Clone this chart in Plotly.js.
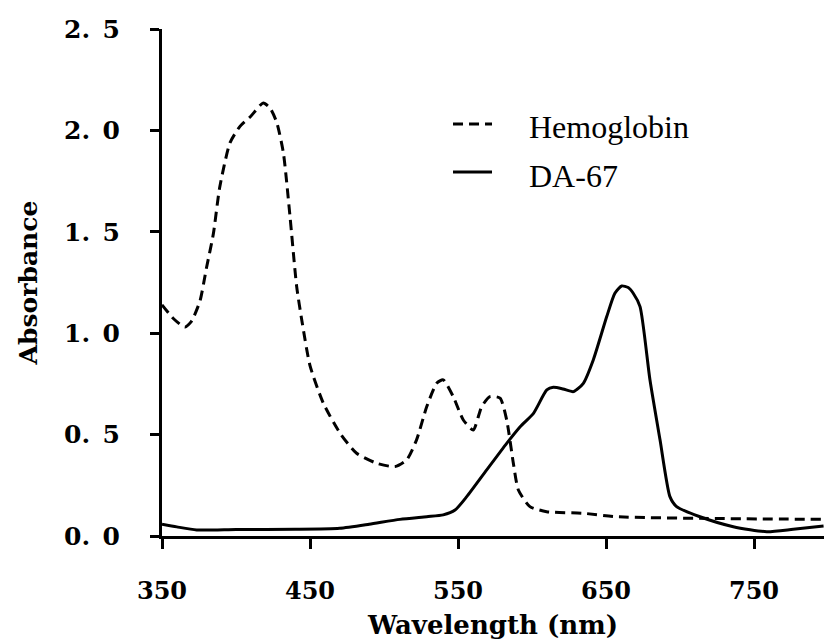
<!DOCTYPE html>
<html>
<head>
<meta charset="utf-8">
<script src="https://cdn.plot.ly/plotly-3.0.1.min.js"></script>
<style>html,body{margin:0;padding:0;background:#fff;}#chart{width:824px;height:643px;}</style>
</head>
<body>
<div id="chart"></div>
<script>
const hbWavelength = [350, 358, 365.5, 370, 375.7, 380, 384.7, 389, 396, 402.7, 410, 418.4, 423, 427.5, 432, 436.5, 441, 445, 450, 459, 470.3, 481.5, 495, 507.4, 515.3, 522, 528.9, 535.6, 540, 546.8, 553.6, 560.3, 566, 571.6, 578.4, 582.9, 587.4, 590.8, 598.6, 609.9, 634.7, 657, 713.5, 797];
const hbAbsorbance = [1.14, 1.07, 1.03, 1.06, 1.16, 1.32, 1.49, 1.72, 1.94, 2.02, 2.07, 2.135, 2.11, 2.04, 1.89, 1.575, 1.23, 1.04, 0.84, 0.655, 0.507, 0.408, 0.359, 0.342, 0.375, 0.474, 0.638, 0.753, 0.77, 0.687, 0.572, 0.523, 0.638, 0.687, 0.68, 0.572, 0.359, 0.227, 0.145, 0.12, 0.112, 0.095, 0.087, 0.082];

const daWavelength = [350, 360, 373.4, 400, 440, 470, 490, 510.8, 528.9, 540, 548, 555.9, 569.4, 582.9, 592, 601, 610, 614.4, 621, 628, 634.7, 641.4, 650.5, 656, 660.6, 665, 668.4, 673, 679.7, 686.5, 693.2, 697.7, 713.5, 736, 758.6, 776.5, 797];
const daAbsorbance = [0.058, 0.045, 0.03, 0.032, 0.033, 0.038, 0.058, 0.082, 0.095, 0.104, 0.128, 0.194, 0.326, 0.457, 0.539, 0.605, 0.72, 0.733, 0.725, 0.712, 0.753, 0.868, 1.082, 1.197, 1.233, 1.225, 1.197, 1.131, 0.77, 0.474, 0.194, 0.145, 0.095, 0.046, 0.021, 0.033, 0.049];

const seriesNames = ["Hemoglobin", "DA-67"];
const seriesDash = ["10px,6px", "solid"];
const xTickVals = [350, 450, 550, 650, 750];
const xTickText = ["350", "450", "550", "650", "750"];
const yTickVals = [0, 0.5, 1.0, 1.5, 2.0, 2.5];
const yTickText = ["0.\u20020", "0.\u20025", "1.\u20020", "1.\u20025", "2.\u20020", "2.\u20025"];

const traces = [
  {x: hbWavelength, y: hbAbsorbance, name: seriesNames[0], type: "scatter", mode: "lines",
   line: {color: "#000", width: 3, dash: seriesDash[0], shape: "spline", smoothing: 0.6}},
  {x: daWavelength, y: daAbsorbance, name: seriesNames[1], type: "scatter", mode: "lines",
   line: {color: "#000", width: 3, dash: seriesDash[1], shape: "spline", smoothing: 0.6}}
];

// custom legend (line samples + labels), placed in paper coordinates
const legendLineY = [0.8126, 0.718];
const legendTextY = [0.8067, 0.710];
const shapes = seriesNames.map((n, i) => ({
  type: "line", xref: "paper", yref: "paper",
  x0: 0.4396, x1: 0.4985, y0: legendLineY[i], y1: legendLineY[i],
  line: {color: "#000", width: 3, dash: seriesDash[i]}
}));
const annotations = seriesNames.map((n, i) => ({
  text: n, xref: "paper", yref: "paper", x: 0.5514, y: legendTextY[i],
  xanchor: "left", yanchor: "middle", showarrow: false,
  font: {family: "Liberation Serif", size: 32, color: "#000"}
}));

const layout = {
  width: 824, height: 643,
  margin: {l: 162, r: 0, t: 29, b: 107},
  paper_bgcolor: "#fff", plot_bgcolor: "#fff",
  showlegend: false,
  shapes: shapes,
  annotations: annotations,
  xaxis: {
    range: [350, 797.3], showgrid: false, zeroline: false,
    showline: true, linecolor: "#000", linewidth: 3,
    ticks: "outside", ticklen: 10, tickwidth: 3, tickcolor: "#000",
    tickvals: xTickVals, ticktext: xTickText, ticklabelstandoff: 21,
    tickfont: {family: "DejaVu Serif", size: 24, color: "#000", weight: "bold"},
    title: {text: "Wavelength (nm)", standoff: 13,
            font: {family: "DejaVu Serif", size: 26, color: "#000", weight: "bold"}}
  },
  yaxis: {
    range: [0, 2.5], showgrid: false, zeroline: false,
    showline: true, linecolor: "#000", linewidth: 3,
    ticks: "outside", ticklen: 9, tickwidth: 3, tickcolor: "#000",
    tickvals: yTickVals, ticktext: yTickText, ticklabelstandoff: 25,
    tickfont: {family: "DejaVu Serif", size: 25, color: "#000", weight: "bold"},
    title: {text: "Absorbance", standoff: 20,
            font: {family: "DejaVu Serif", size: 25, color: "#000", weight: "bold"}}
  }
};

Plotly.newPlot("chart", traces, layout, {displayModeBar: false, staticPlot: true});
</script>
</body>
</html>
